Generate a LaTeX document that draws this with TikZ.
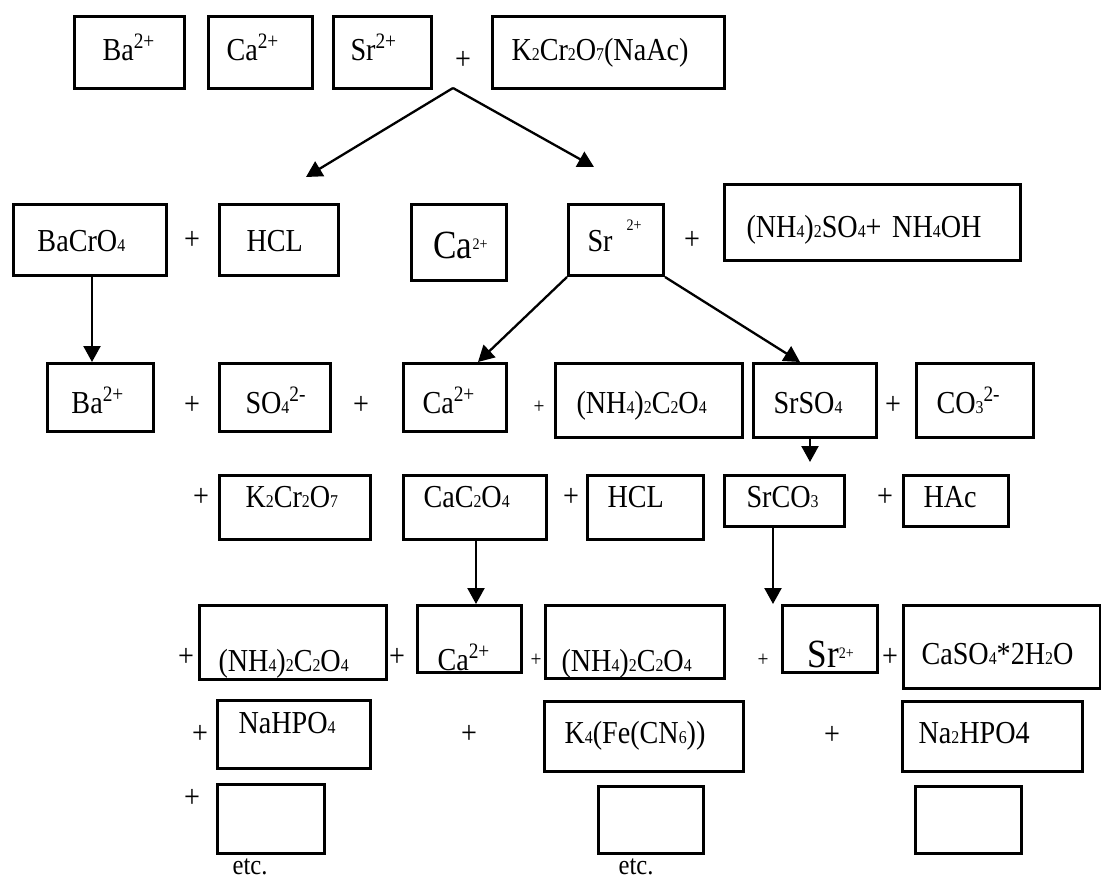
\documentclass[tikz,border=0pt]{standalone}
\usepackage{fontspec}
\setmainfont[FakeStretch=0.88]{Liberation Serif}
\usetikzlibrary{arrows.meta}
\newcommand\sbs[1]{{\fontsize{18}{18}\selectfont #1}}
\newcommand\spr[1]{\raisebox{12pt}{\fontsize{22}{22}\selectfont #1}}
\newcommand\ssp[1]{\raisebox{9pt}{\fontsize{16}{16}\selectfont #1}}
\newcommand\lrg[1]{{\fontsize{40}{40}\selectfont #1}}
\newcommand\bx[8]{%
  \pgfmathsetmacro\bxw{#4-#2}%
  \pgfmathsetmacro\bxd{#5-#3-#6}%
  \node[box,text width=\bxw pt,text height=#6pt,text depth=\bxd pt] (#1) at (#2,-#3) {\hspace*{#7pt}#8};}
\tikzset{
  box/.style={draw, line width=3pt, inner sep=0pt, anchor=north west, align=left,
    font=\fontsize{32}{34}\selectfont},
  pl/.style={inner sep=0pt, font=\fontsize{32}{34}\selectfont},
  spl/.style={inner sep=0pt, font=\fontsize{22}{24}\selectfont},
  etcs/.style={inner sep=0pt, anchor=base, font=\fontsize{28}{30}\selectfont},
  arr/.style={line width=2.3pt, -{Triangle[length=16pt,width=17pt]}}
}
\begin{document}
\begin{tikzpicture}[x=1pt,y=1pt]
\useasboundingbox (0,0) rectangle (1101,-879);
% row 1
\bx{aBa}{73}{15}{183}{87}{44}{28}{Ba\spr{2+}}
\bx{aCa}{207}{15}{311}{87}{44}{18}{Ca\spr{2+}}
\bx{aSr}{332}{15}{430}{87}{44}{17}{Sr\spr{2+}}
\node[pl] (p1) at (463,-60) {+};
\bx{aK}{491}{15}{723}{87}{44}{19}{K\sbs{2}Cr\sbs{2}O\sbs{7}(NaAc)}
% row 2
\bx{bBa}{12}{203}{165}{274}{47}{24}{BaCrO\sbs{4}}
\node[pl] (p2) at (192,-240) {+};
\bx{bHcl}{218}{203}{337}{274}{47}{27}{HCL}
\bx{bCa}{410}{203}{505}{279}{54}{22}{\lrg{Ca}\ssp{2+}}
\bx{bSr}{567}{203}{662}{274}{47}{19}{Sr\hspace{14pt}\raisebox{21pt}{\fontsize{16}{16}\selectfont 2+}}
\node[pl] (p3) at (692,-240) {+};
\bx{bNh}{723}{183}{1019}{259}{53}{22}{(NH\sbs{4})\sbs{2}SO\sbs{4}+ NH\sbs{4}OH}
% row 3
\bx{cBa}{46}{362}{152}{430}{50}{24}{Ba\spr{2+}}
\node[pl] (p4) at (192,-405) {+};
\bx{cSo}{218}{362}{329}{430}{50}{26}{SO\sbs{4}\spr{2-}}
\node[pl] (p5) at (361,-405) {+};
\bx{cCa}{402}{362}{505}{430}{50}{19}{Ca\spr{2+}}
\node[spl] (p6) at (539,-407) {+};
\bx{cNh}{554}{362}{741}{436}{50}{21}{(NH\sbs{4})\sbs{2}C\sbs{2}O\sbs{4}}
\bx{cSr}{752}{362}{875}{436}{50}{20}{SrSO\sbs{4}}
\node[pl] (p7) at (893,-405) {+};
\bx{cCo}{915}{362}{1032}{436}{50}{20}{CO\sbs{3}\spr{2-}}
% row 4
\node[pl] (p8) at (201,-497) {+};
\bx{dK}{218}{474}{369}{538}{32}{26}{K\sbs{2}Cr\sbs{2}O\sbs{7}}
\bx{dCa}{402}{474}{545}{538}{32}{20}{CaC\sbs{2}O\sbs{4}}
\node[pl] (p9) at (571,-497) {+};
\bx{dHcl}{586}{474}{702}{538}{32}{20}{HCL}
\bx{dSr}{723}{474}{843}{525}{32}{22}{SrCO\sbs{3}}
\node[pl] (p10) at (885,-497) {+};
\bx{dHac}{902}{474}{1007}{525}{32}{20}{HAc}
% row 5
\node[pl] (p11) at (186,-657) {+};
\bx{eNh}{198}{604}{385}{678}{66}{19}{(NH\sbs{4})\sbs{2}C\sbs{2}O\sbs{4}}
\node[pl] (p12) at (397,-657) {+};
\bx{eCa}{416}{604}{520}{671}{65}{20}{Ca\spr{2+}}
\node[spl] (p13) at (536,-660) {+};
\bx{eNh2}{544}{604}{723}{677}{66}{16}{(NH\sbs{4})\sbs{2}C\sbs{2}O\sbs{4}}
\node[spl] (p14) at (763,-660) {+};
\bx{eSr}{781}{604}{876}{671}{62}{25}{\lrg{Sr}\ssp{2+}}
\node[pl] (p15) at (890,-657) {+};
\bx{eCs}{902}{604}{1099}{687}{59}{18}{CaSO\sbs{4}*2H\sbs{2}O}
% row 6
\node[pl] (p16) at (200,-734) {+};
\bx{fNa}{216}{699}{369}{767}{33}{21}{NaHPO\sbs{4}}
\node[pl] (p17) at (469,-734) {+};
\bx{fK}{543}{700}{742}{770}{42}{20}{K\sbs{4}(Fe(CN\sbs{6}))}
\node[pl] (p18) at (832,-735) {+};
\bx{fNa2}{901}{700}{1081}{770}{42}{16}{Na\sbs{2}HPO4}
% row 7
\node[pl] (p19) at (192,-798) {+};
\bx{gA}{216}{783}{323}{852}{30}{0}{}
\bx{gB}{597}{785}{702}{852}{30}{0}{}
\bx{gC}{914}{785}{1020}{852}{30}{0}{}
\node[etcs] (etc1) at (250,-874) {etc.};
\node[etcs] (etc2) at (636,-874) {etc.};
% arrows
\coordinate (apex) at (453,-88);
\coordinate (tl) at (306,-177);
\coordinate (tr) at (594,-167);
\draw[arr] (apex) -- (tl);
\draw[arr] (apex) -- (tr);
\draw[arr] ([xshift=2pt]bBa.south) -- ([xshift=2pt]bBa.south |- cBa.north);
\coordinate (sl) at (478,-362);
\coordinate (sr) at (800,-362);
\draw[arr] (bSr.south west) -- (sl);
\draw[arr] (bSr.south east) -- (sr);
\coordinate (ss) at (810,-462);
\draw[arr] (ss |- cSr.south) -- (ss);
\coordinate (cc) at (476,-604);
\draw[arr] (cc |- dCa.south) -- (cc);
\coordinate (sc) at (773,-604);
\draw[arr] (sc |- dSr.south) -- (sc);
\end{tikzpicture}
\end{document}
